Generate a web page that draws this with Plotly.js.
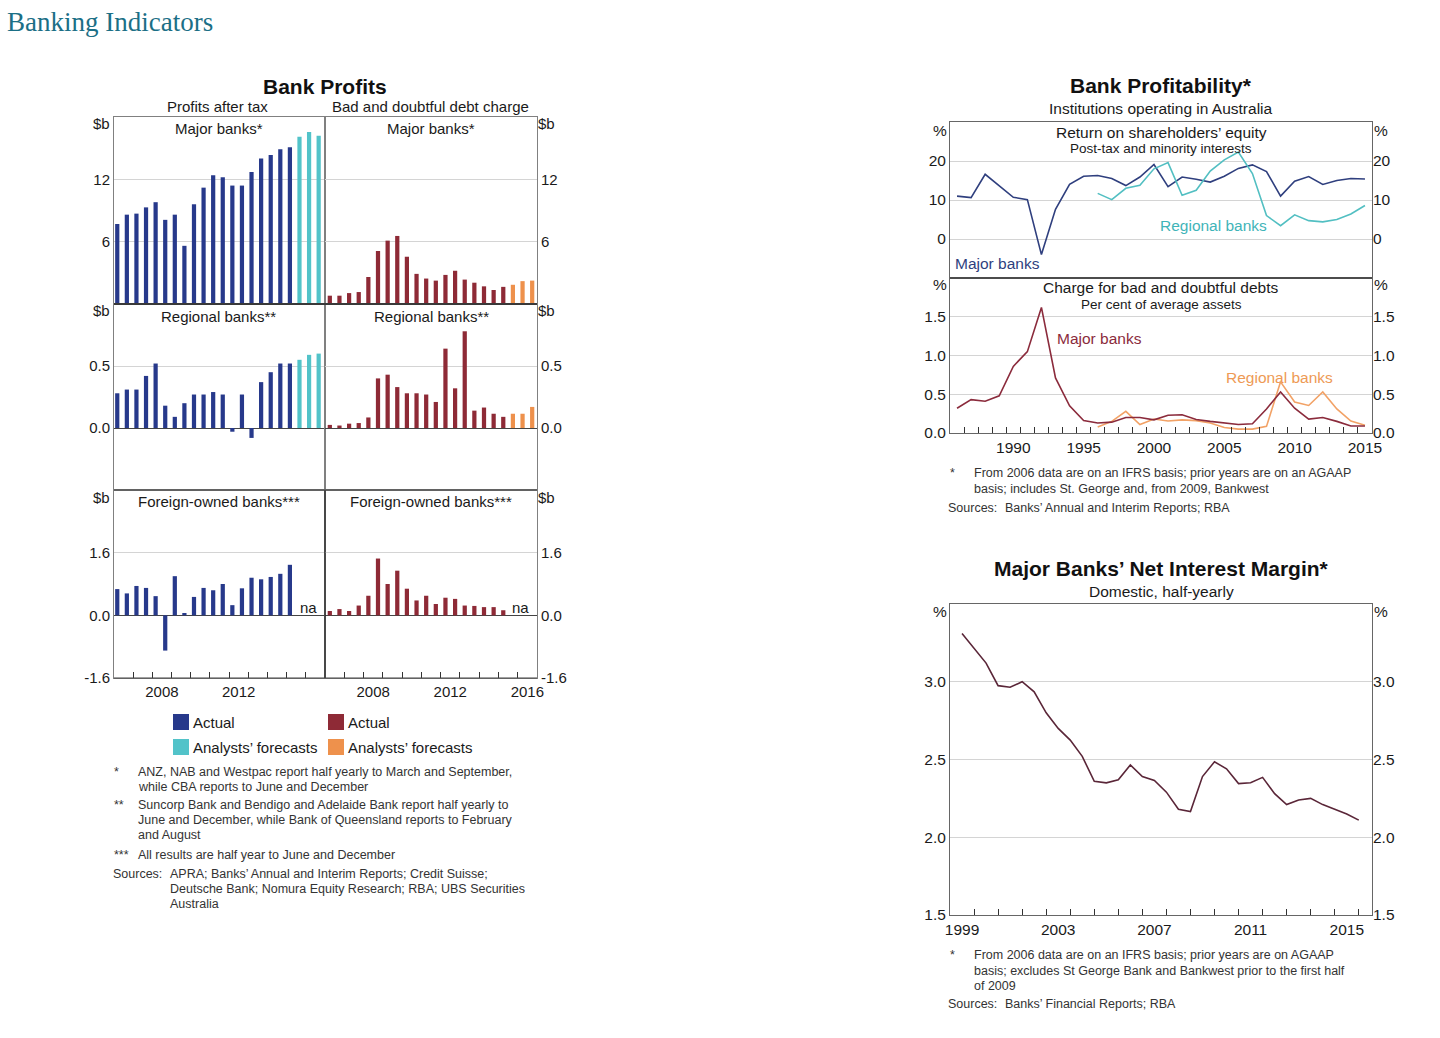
<!DOCTYPE html>
<html><head><meta charset="utf-8">
<script src="https://cdn.plot.ly/plotly-3.0.1.min.js"></script>
<style>html,body{margin:0;padding:0;background:#fff;} #chart{width:1440px;height:1038px;}</style>
</head><body><div id="chart"></div>
<script>
// ---------------- DATA ----------------
// Bank Profits: half-yearly periods
const halfYears = ['2006H1','2006H2','2007H1','2007H2','2008H1','2008H2','2009H1','2009H2','2010H1','2010H2','2011H1','2011H2',
                   '2012H1','2012H2','2013H1','2013H2','2014H1','2014H2','2015H1','2015H2','2016H1','2016H2'];
const profitYearLabelsLeft = ['2008','2012'];
const profitYearLabelsRight = ['2008','2012','2016'];
const profitTickMajor = [6, 12];       const profitTickMajorText = ['6','12'];
const profitTickRegional = [0, 0.5];   const profitTickRegionalText = ['0.0','0.5'];
const profitTickForeign = [-1.6, 0, 1.6]; const profitTickForeignText = ['-1.6','0.0','1.6'];

const majorProfitActual   = [7.7,8.6,8.7,9.3,9.8,8.1,8.6,5.6,9.6,11.2,12.4,12.2,11.4,11.4,12.7,14.0,14.35,14.9,15.1];
const majorProfitForecast = [16.1,16.55,16.2];
const majorBadDebtActual   = [0.8,0.8,1.05,1.15,2.6,5.1,6.1,6.55,4.55,2.9,2.45,2.25,2.8,3.2,2.35,2.05,1.7,1.35,1.65];
const majorBadDebtForecast = [1.85,2.2,2.25];
const regionalProfitActual   = [0.28,0.31,0.31,0.42,0.52,0.18,0.09,0.20,0.27,0.27,0.29,0.27,-0.03,0.27,-0.08,0.37,0.45,0.52,0.52];
const regionalProfitForecast = [0.55,0.59,0.60];
const regionalBadDebtActual   = [0.025,0.02,0.035,0.04,0.085,0.40,0.43,0.33,0.28,0.28,0.27,0.21,0.64,0.32,0.78,0.14,0.165,0.115,0.09];
const regionalBadDebtForecast = [0.115,0.115,0.17];
const foreignProfitActual  = [0.67,0.56,0.75,0.70,0.49,-0.90,1.00,0.06,0.47,0.70,0.64,0.80,0.26,0.69,0.96,0.92,0.98,1.06,1.29];
const foreignBadDebtActual = [0.11,0.16,0.11,0.25,0.50,1.45,0.80,1.14,0.68,0.38,0.50,0.29,0.45,0.42,0.25,0.24,0.21,0.21,0.13];

// Bank Profitability: annual
const roeYears = [1986,1987,1988,1989,1990,1991,1992,1993,1994,1995,1996,1997,1998,1999,2000,
                  2001,2002,2003,2004,2005,2006,2007,2008,2009,2010,2011,2012,2013,2014,2015];
const regionalYears = [1996,1997,1998,1999,2000,2001,2002,2003,2004,2005,2006,2007,2008,2009,2010,2011,2012,2013,2014,2015];
const roeMajor = [11.0,10.6,16.6,13.7,10.7,10.1,-4.0,7.6,14.0,16.1,16.3,15.5,13.7,15.9,19.1,
                  13.4,15.9,15.3,14.6,16.1,18.1,19.0,17.3,11.0,14.8,16.0,14.0,15.0,15.5,15.4];
const roeRegional = [11.7,10.1,13.0,13.8,18.0,19.6,11.2,12.5,17.4,20.3,22.3,16.8,6.0,3.4,6.2,4.7,4.4,5.0,6.4,8.6];
const badDebtMajor = [0.32,0.43,0.41,0.48,0.86,1.05,1.62,0.71,0.35,0.16,0.13,0.14,0.20,0.20,0.17,
                      0.23,0.235,0.175,0.15,0.13,0.11,0.12,0.31,0.53,0.32,0.18,0.20,0.15,0.09,0.09];
const badDebtRegional = [0.077,0.15,0.28,0.11,0.18,0.155,0.17,0.16,0.13,0.07,0.05,0.05,0.085,0.66,0.40,0.355,0.53,0.31,0.155,0.10];
const roeYearLabels = ['1990','1995','2000','2005','2010','2015'];
const roeTicks = [0,10,20];            const roeTickText = ['0','10','20'];
const bdTicks = [0,0.5,1.0,1.5];       const bdTickText = ['0.0','0.5','1.0','1.5'];

// Net interest margin: half-yearly
const nimPeriods = ['1999-06','1999-12','2000-06','2000-12','2001-06','2001-12','2002-06','2002-12','2003-06','2003-12',
                    '2004-06','2004-12','2005-06','2005-12','2006-06','2006-12','2007-06','2007-12','2008-06','2008-12',
                    '2009-06','2009-12','2010-06','2010-12','2011-06','2011-12','2012-06','2012-12','2013-06','2013-12',
                    '2014-06','2014-12','2015-06','2015-12'];
const nimValues = [3.31,3.215,3.12,2.975,2.965,3.00,2.935,2.80,2.70,2.625,2.52,2.36,2.35,2.37,2.465,2.39,2.365,2.29,2.18,2.165,
                   2.39,2.485,2.44,2.345,2.35,2.385,2.28,2.21,2.24,2.25,2.21,2.18,2.15,2.11];
const nimYearLabels = ['1999','2003','2007','2011','2015'];
const nimTicks = [1.5,2.0,2.5,3.0];    const nimTickText = ['1.5','2.0','2.5','3.0'];

// ---------------- HELPERS ----------------
const W = 1440, H = 1038;
const px = v => v / W;
const py = v => 1 - v / H;
const FONT = 'Liberation Sans, Arial, Helvetica, sans-serif';
const TXT = '#1a1a1a';
const GRID = '#d4d4d4';
const BOX = '#808080';
const C = {navy:'#27398B', cyan:'#52C3C9', maroon:'#8E2A36', orange:'#EE914C',
           roeMajor:'#2F3F7E', roeReg:'#52BFC2', bdMajor:'#8B2B3C', bdReg:'#F2A266', nim:'#5A2638'};

const periodPos = (p, off) => +p.slice(0,4) + (p.slice(4) === 'H2' ? 0.5 : 0) + off;
const monthPos = p => +p.slice(0,4) + (+p.slice(5,7)) / 12;

const traces = [];
const layout = {
  width: W, height: H, autosize: false,
  margin: {l:0, r:0, t:0, b:0, pad:0},
  paper_bgcolor: '#fff', plot_bgcolor: 'rgba(0,0,0,0)',
  showlegend: false, barmode: 'overlay',
  font: {family: FONT, size: 15, color: TXT},
  annotations: [], shapes: []
};

function T(text, x, y, opts) {
  opts = opts || {};
  const f = Object.assign({family: FONT, size: 15, color: TXT}, opts.font || {});
  const a = Object.assign({text: text, x: px(x), y: py(y), xref: 'paper', yref: 'paper', showarrow: false,
    xanchor: 'center', yanchor: 'middle'}, opts);
  a.font = f;
  layout.annotations.push(a);
}
function lines(arr, x, y0, step, opts) { arr.forEach((t, i) => T(t, x, y0 + i * step, opts)); }

// ---------------- BANK PROFITS ----------------
const cols = [
  {x0:114, x1:325, side:'left',  labels: profitYearLabelsLeft,  off: 0.17, actual: C.navy,   fc: C.cyan},
  {x0:325, x1:537, side:'right', labels: profitYearLabelsRight, off: 0.25, actual: C.maroon, fc: C.orange}
];
const rows = [
  {y0:117, y1:304, range:[0,18],      vals: profitTickMajor,    text: profitTickMajorText,    zero:false},
  {y0:304, y1:490, range:[-0.5,1.0],  vals: profitTickRegional, text: profitTickRegionalText, zero:true},
  {y0:490, y1:678, range:[-1.6,3.2],  vals: profitTickForeign,  text: profitTickForeignText,  zero:true}
];
const panelData = [
  [majorProfitActual, majorProfitForecast], [majorBadDebtActual, majorBadDebtForecast],
  [regionalProfitActual, regionalProfitForecast], [regionalBadDebtActual, regionalBadDebtForecast],
  [foreignProfitActual, null], [foreignBadDebtActual, null]
];
const yearBounds = [2007,2008,2009,2010,2011,2012,2013,2014,2015,2016];

rows.forEach((r, ri) => {
  cols.forEach((c, ci) => {
    const n = ri * 2 + ci + 1;
    const xa = {domain:[px(c.x0), px(c.x1)], anchor:'y'+n, range:[2006,2017], showline:true, mirror:true,
      linecolor:BOX, linewidth:1, showgrid:false, zeroline:false, fixedrange:true};
    if (ri === 2) {
      Object.assign(xa, {tickmode:'array', tickvals: c.labels.map(l => +l + 0.5), ticktext: c.labels, ticks:'',
        tickfont:{family:FONT, size:15, color:TXT},
        minor:{tickmode:'array', tickvals: yearBounds, ticks:'inside', ticklen:6, tickwidth:1, tickcolor:'#333', showgrid:false}});
    } else {
      Object.assign(xa, {showticklabels:false, ticks:''});
    }
    const ya = {domain:[py(r.y1), py(r.y0)], anchor:'x'+n, range:r.range, side:c.side, showline:true, mirror:true,
      linecolor:BOX, linewidth:1, tickmode:'array', tickvals:r.vals, ticktext:r.text, ticks:'',
      showgrid:true, gridcolor:GRID, gridwidth:1, zeroline:r.zero, zerolinecolor:'#444', zerolinewidth:1,
      tickfont:{family:FONT, size:15, color:TXT}, fixedrange:true};
    layout['xaxis'+n] = xa;
    layout['yaxis'+n] = ya;
    const d = panelData[n-1];
    const xs = halfYears.map(p => periodPos(p, c.off));
    traces.push({type:'bar', x: xs.slice(0, d[0].length), y: d[0], xaxis:'x'+n, yaxis:'y'+n,
      width:0.22, marker:{color:c.actual, line:{width:0}}, hoverinfo:'skip'});
    if (d[1]) traces.push({type:'bar', x: xs.slice(d[0].length, d[0].length + d[1].length), y: d[1], xaxis:'x'+n, yaxis:'y'+n,
      width:0.22, marker:{color:c.fc, line:{width:0}}, hoverinfo:'skip'});
  });
});

// strong lines
layout.shapes.push({type:'line', xref:'paper', yref:'paper', x0:px(114), x1:px(537), y0:py(304), y1:py(304), line:{color:'#222', width:1.5}});
layout.shapes.push({type:'line', xref:'paper', yref:'paper', x0:px(325), x1:px(325), y0:py(490), y1:py(678), line:{color:'#222', width:1.2}});
layout.shapes.push({type:'line', xref:'paper', yref:'paper', x0:px(114), x1:px(537), y0:py(490), y1:py(490), line:{color:'#444', width:1.2}});
layout.shapes.push({type:'line', xref:'paper', yref:'paper', x0:px(114), x1:px(537), y0:py(678), y1:py(678), line:{color:'#444', width:1.2}});

// texts
T('Banking Indicators', 5, 22, {xanchor:'left', font:{family:'Liberation Serif, DejaVu Serif, serif', size:27, color:'#1B6F86'}});
T('<b>Bank Profits</b>', 325, 87, {font:{size:21, color:'#111'}});
T('Profits after tax', 218, 106);
T('Bad and doubtful debt charge', 430, 106);
['Major banks*','Regional banks**','Foreign-owned banks***'].forEach((t, i) => {
  const y = [128, 316, 502][i];
  T(t, 219, y); T(t, 431, y);
  const ys = [124, 311, 498][i];
  T('$b', 101, ys); T('$b', 546, ys);
});
T('na', 308, 607); T('na', 520, 607);

// legend
[[173, 714, C.navy], [328, 714, C.maroon], [173, 739, C.cyan], [328, 739, C.orange]].forEach(s => {
  layout.shapes.push({type:'rect', xref:'paper', yref:'paper', x0:px(s[0]), x1:px(s[0]+16), y0:py(s[1]+16), y1:py(s[1]),
    fillcolor:s[2], line:{width:0}});
});
T('Actual', 191, 722, {xanchor:'left'}); T('Actual', 346, 722, {xanchor:'left'});
T('Analysts’ forecasts', 191, 747, {xanchor:'left'}); T('Analysts’ forecasts', 346, 747, {xanchor:'left'});

// footnotes left
const fnL = {xanchor:'left', font:{size:12.5, color:'#333'}};
T('*', 112, 772, fnL);
lines(['ANZ, NAB and Westpac report half yearly to March and September,', 'while CBA reports to June and December'], 136, 772, 15, fnL);
T('**', 112, 805, fnL);
lines(['Suncorp Bank and Bendigo and Adelaide Bank report half yearly to', 'June and December, while Bank of Queensland reports to February', 'and August'], 136, 805, 15, fnL);
T('***', 112, 855, fnL);
lines(['All results are half year to June and December'], 136, 855, 15, fnL);
T('Sources:', 111, 874, fnL);
lines(['APRA; Banks’ Annual and Interim Reports; Credit Suisse;', 'Deutsche Bank; Nomura Equity Research; RBA; UBS Securities', 'Australia'], 168, 874, 15, fnL);

// ---------------- BANK PROFITABILITY ----------------
const RX0 = 950, RX1 = 1372;
const tf = {family:FONT, size:15.5, color:TXT};
layout.xaxis7 = {domain:[px(RX0), px(RX1)], anchor:'y7', range:[1985.5, 2015.5], showline:true, mirror:true, linecolor:'#666',
  showgrid:false, zeroline:false, showticklabels:false, ticks:'', fixedrange:true};
layout.yaxis7 = {domain:[py(278), py(122)], anchor:'x7', range:[-10,30], side:'left', showline:true, mirror:true, linecolor:'#666',
  tickmode:'array', tickvals:roeTicks, ticktext:roeTickText, ticks:'', showgrid:true, gridcolor:GRID, zeroline:false,
  tickfont:tf, fixedrange:true};
layout.yaxis10 = {overlaying:'y7', anchor:'x7', side:'right', range:[-10,30], tickmode:'array', tickvals:roeTicks, ticktext:roeTickText,
  ticks:'', showgrid:false, zeroline:false, showline:false, tickfont:tf, fixedrange:true};

const roeBounds = roeYears.slice(0, -1).map(y => y + 0.5);
layout.xaxis8 = {domain:[px(RX0), px(RX1)], anchor:'y8', range:[1985.5, 2015.5], showline:true, mirror:true, linecolor:'#666',
  showgrid:false, zeroline:false, tickmode:'array', tickvals:roeYearLabels.map(Number), ticktext:roeYearLabels, ticks:'',
  tickfont:tf,
  minor:{tickmode:'array', tickvals:roeBounds, ticks:'inside', ticklen:6, tickcolor:'#333', showgrid:false}, fixedrange:true};
layout.yaxis8 = {domain:[py(433), py(278)], anchor:'x8', range:[0,2], side:'left', showline:true, mirror:true, linecolor:'#666',
  tickmode:'array', tickvals:bdTicks, ticktext:bdTickText, ticks:'', showgrid:true, gridcolor:GRID, zeroline:false,
  tickfont:tf, fixedrange:true};
layout.yaxis11 = {overlaying:'y8', anchor:'x8', side:'right', range:[0,2], tickmode:'array', tickvals:bdTicks, ticktext:bdTickText,
  ticks:'', showgrid:false, zeroline:false, showline:false, tickfont:tf, fixedrange:true};
layout.shapes.push({type:'line', xref:'paper', yref:'paper', x0:px(RX0), x1:px(RX1), y0:py(278), y1:py(278), line:{color:'#444', width:1.3}});

traces.push({type:'scatter', mode:'lines', x:roeYears, y:roeMajor, xaxis:'x7', yaxis:'y7', line:{color:C.roeMajor, width:1.6}, hoverinfo:'skip'});
traces.push({type:'scatter', mode:'lines', x:regionalYears, y:roeRegional, xaxis:'x7', yaxis:'y7', line:{color:C.roeReg, width:1.6}, hoverinfo:'skip'});
traces.push({type:'scatter', mode:'lines', x:regionalYears, y:badDebtRegional, xaxis:'x8', yaxis:'y8', line:{color:C.bdReg, width:1.6}, hoverinfo:'skip'});
traces.push({type:'scatter', mode:'lines', x:roeYears, y:badDebtMajor, xaxis:'x8', yaxis:'y8', line:{color:C.bdMajor, width:1.6}, hoverinfo:'skip'});
// invisible twins so that the right-hand mirrored axes are drawn
traces.push({type:'scatter', mode:'lines', x:roeYears, y:roeMajor, xaxis:'x7', yaxis:'y10', opacity:0, line:{width:0}, hoverinfo:'skip'});
traces.push({type:'scatter', mode:'lines', x:roeYears, y:badDebtMajor, xaxis:'x8', yaxis:'y11', opacity:0, line:{width:0}, hoverinfo:'skip'});

T('<b>Bank Profitability*</b>', 1161, 86, {font:{size:21, color:'#111'}});
T('Institutions operating in Australia', 1161, 109, {font:{size:15.5}});
T('Return on shareholders’ equity', 1161, 132, {font:{size:15.5}});
T('Post-tax and minority interests', 1161, 149, {font:{size:13.5}});
T('Charge for bad and doubtful debts', 1161, 288, {font:{size:15.5}});
T('Per cent of average assets', 1161, 304, {font:{size:13.5}});
T('%', 940, 130, {font:{size:15.5}}); T('%', 1381, 130, {font:{size:15.5}});
T('%', 940, 285, {font:{size:15.5}}); T('%', 1381, 285, {font:{size:15.5}});
T('Major banks', 997, 263, {font:{size:15.5, color:C.roeMajor}});
T('Regional banks', 1213, 226, {font:{size:15.5, color:'#3FB4B8'}});
T('Major banks', 1099, 338, {font:{size:15.5, color:C.bdMajor}});
T('Regional banks', 1279, 377, {font:{size:15.5, color:'#EE9A55'}});

const fnR = {xanchor:'left', font:{size:12.5, color:'#333'}};
T('*', 948, 473, fnR);
lines(['From 2006 data are on an IFRS basis; prior years are on an AGAAP', 'basis; includes St. George and, from 2009, Bankwest'], 972, 473, 16, fnR);
T('Sources:', 946, 508, fnR);
T('Banks’ Annual and Interim Reports; RBA', 1003, 508, fnR);

// ---------------- NET INTEREST MARGIN ----------------
const nimBounds = [2000,2001,2002,2003,2004,2005,2006,2007,2008,2009,2010,2011,2012,2013,2014,2015,2016];
layout.xaxis9 = {domain:[px(RX0), px(RX1)], anchor:'y9', range:[1999, 2016.55], showline:true, mirror:true, linecolor:'#666',
  showgrid:false, zeroline:false, tickmode:'array', tickvals:nimYearLabels.map(l => +l + 0.5), ticktext:nimYearLabels, ticks:'',
  tickfont:tf,
  minor:{tickmode:'array', tickvals:nimBounds, ticks:'inside', ticklen:6, tickcolor:'#333', showgrid:false}, fixedrange:true};
layout.yaxis9 = {domain:[py(915), py(604)], anchor:'x9', range:[1.5,3.5], side:'left', showline:true, mirror:true, linecolor:'#666',
  tickmode:'array', tickvals:nimTicks, ticktext:nimTickText, ticks:'', showgrid:true, gridcolor:GRID, zeroline:false,
  tickfont:tf, fixedrange:true};
layout.yaxis12 = {overlaying:'y9', anchor:'x9', side:'right', range:[1.5,3.5], tickmode:'array', tickvals:nimTicks, ticktext:nimTickText,
  ticks:'', showgrid:false, zeroline:false, showline:false, tickfont:tf, fixedrange:true};
traces.push({type:'scatter', mode:'lines', x:nimPeriods.map(monthPos), y:nimValues, xaxis:'x9', yaxis:'y9', line:{color:C.nim, width:1.6}, hoverinfo:'skip'});
traces.push({type:'scatter', mode:'lines', x:nimPeriods.map(monthPos), y:nimValues, xaxis:'x9', yaxis:'y12', opacity:0, line:{width:0}, hoverinfo:'skip'});

T('<b>Major Banks’ Net Interest Margin*</b>', 1161, 568, {font:{size:21, color:'#111'}});
T('Domestic, half-yearly', 1161, 591, {font:{size:15.5}});
T('%', 940, 611, {font:{size:15.5}}); T('%', 1381, 611, {font:{size:15.5}});
T('*', 948, 955, fnR);
lines(['From 2006 data are on an IFRS basis; prior years are on AGAAP', 'basis; excludes St George Bank and Bankwest prior to the first half', 'of 2009'], 972, 955, 15.5, fnR);
T('Sources:', 946, 1004, fnR);
T('Banks’ Financial Reports; RBA', 1003, 1004, fnR);

Plotly.newPlot('chart', traces, layout, {displayModeBar:false, staticPlot:true});
</script>
</body></html>
